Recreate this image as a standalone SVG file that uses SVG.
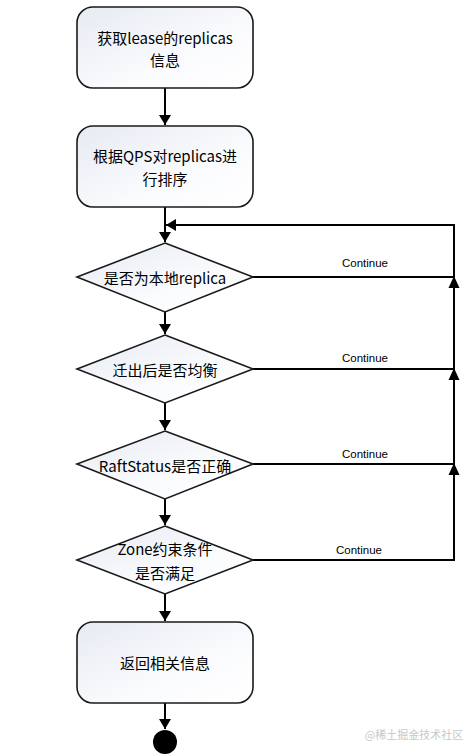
<svg xmlns="http://www.w3.org/2000/svg" width="475" height="756" viewBox="0 0 475 756">
<style>
.box{stroke:#1a1a1a;stroke-width:1.6;fill:url(#g)}
.dia{stroke:#1a1a1a;stroke-width:1.6;fill:url(#g)}
.t{font-family:"Noto Sans CJK SC","Noto Sans",sans-serif;font-size:15px;fill:#000;text-anchor:middle;dominant-baseline:central}
.c{font-family:"Liberation Sans","Noto Sans",sans-serif;font-size:11.5px;fill:#000;text-anchor:middle}
.ln{stroke:#000;stroke-width:2;fill:none}
</style>
<defs>
<linearGradient id="g" x1="0" y1="0" x2="1" y2="1">
<stop offset="0" stop-color="#e6eaf2"/>
<stop offset="0.6" stop-color="#fafbfd"/>
<stop offset="1" stop-color="#ffffff"/>
</linearGradient>
<marker id="a" markerWidth="10" markerHeight="12" refX="10" refY="6" orient="auto" markerUnits="userSpaceOnUse">
<path d="M0,0 L10,6 L0,12 Z" fill="#000"/>
</marker>
</defs>
<rect width="475" height="756" fill="#fff"/>
<g id="connectors">
<line class="ln" x1="165" y1="88" x2="165" y2="125" marker-end="url(#a)"/>
<line class="ln" x1="165" y1="207" x2="165" y2="242" marker-end="url(#a)"/>
<line class="ln" x1="165" y1="312" x2="165" y2="334" marker-end="url(#a)"/>
<line class="ln" x1="165" y1="403" x2="165" y2="430" marker-end="url(#a)"/>
<line class="ln" x1="165" y1="499" x2="165" y2="525" marker-end="url(#a)"/>
<line class="ln" x1="165" y1="594" x2="165" y2="621" marker-end="url(#a)"/>
<line class="ln" x1="165" y1="703" x2="165" y2="729" marker-end="url(#a)"/>
<polyline class="ln" points="253,560 454,560 454,225 166,225" marker-end="url(#a)"/>
<line class="ln" x1="253" y1="277" x2="454" y2="277"/>
<line class="ln" x1="253" y1="369" x2="454" y2="369"/>
<line class="ln" x1="253" y1="464" x2="454" y2="464"/>
<path d="M448.5,288 L454,276 L459.5,288 Z" fill="#000"/>
<path d="M448.5,380 L454,368 L459.5,380 Z" fill="#000"/>
<path d="M448.5,475 L454,463 L459.5,475 Z" fill="#000"/>
<text class="c" x="365" y="267">Continue</text>
<text class="c" x="365" y="362">Continue</text>
<text class="c" x="365" y="458">Continue</text>
<text class="c" x="359" y="554">Continue</text>
</g>
<g id="n1">
<rect class="box" x="77" y="7" width="176" height="81" rx="16"/>
<text class="t" x="165" y="37">获取lease的replicas</text>
<text class="t" x="165" y="59">信息</text>
</g>
<g id="n2">
<rect class="box" x="77" y="126" width="176" height="81" rx="16"/>
<text class="t" x="165" y="155">根据QPS对replicas进</text>
<text class="t" x="165" y="178">行排序</text>
</g>
<g id="d1">
<polygon class="dia" points="165,243 253,277 165,312 77,277"/>
<text class="t" x="165" y="277">是否为本地replica</text>
</g>
<g id="d2">
<polygon class="dia" points="165,335 253,369 165,403 77,369"/>
<text class="t" x="165" y="369">迁出后是否均衡</text>
</g>
<g id="d3">
<polygon class="dia" points="165,431 253,464 165,499 77,464"/>
<text class="t" x="165" y="465">RaftStatus是否正确</text>
</g>
<g id="d4">
<polygon class="dia" points="165,526 253,560 165,594 77,560"/>
<text class="t" x="165" y="548">Zone约束条件</text>
<text class="t" x="165" y="572">是否满足</text>
</g>
<g id="n3">
<rect class="box" x="77" y="622" width="176" height="81" rx="16"/>
<text class="t" x="165" y="662">返回相关信息</text>
</g>
<g id="end">
<circle cx="165" cy="742" r="12" fill="#000"/>
</g>
<text x="414" y="739" font-family="Noto Sans CJK SC,sans-serif" font-size="11" fill="#c8c8c8" text-anchor="middle">@稀土掘金技术社区</text>
</svg>
